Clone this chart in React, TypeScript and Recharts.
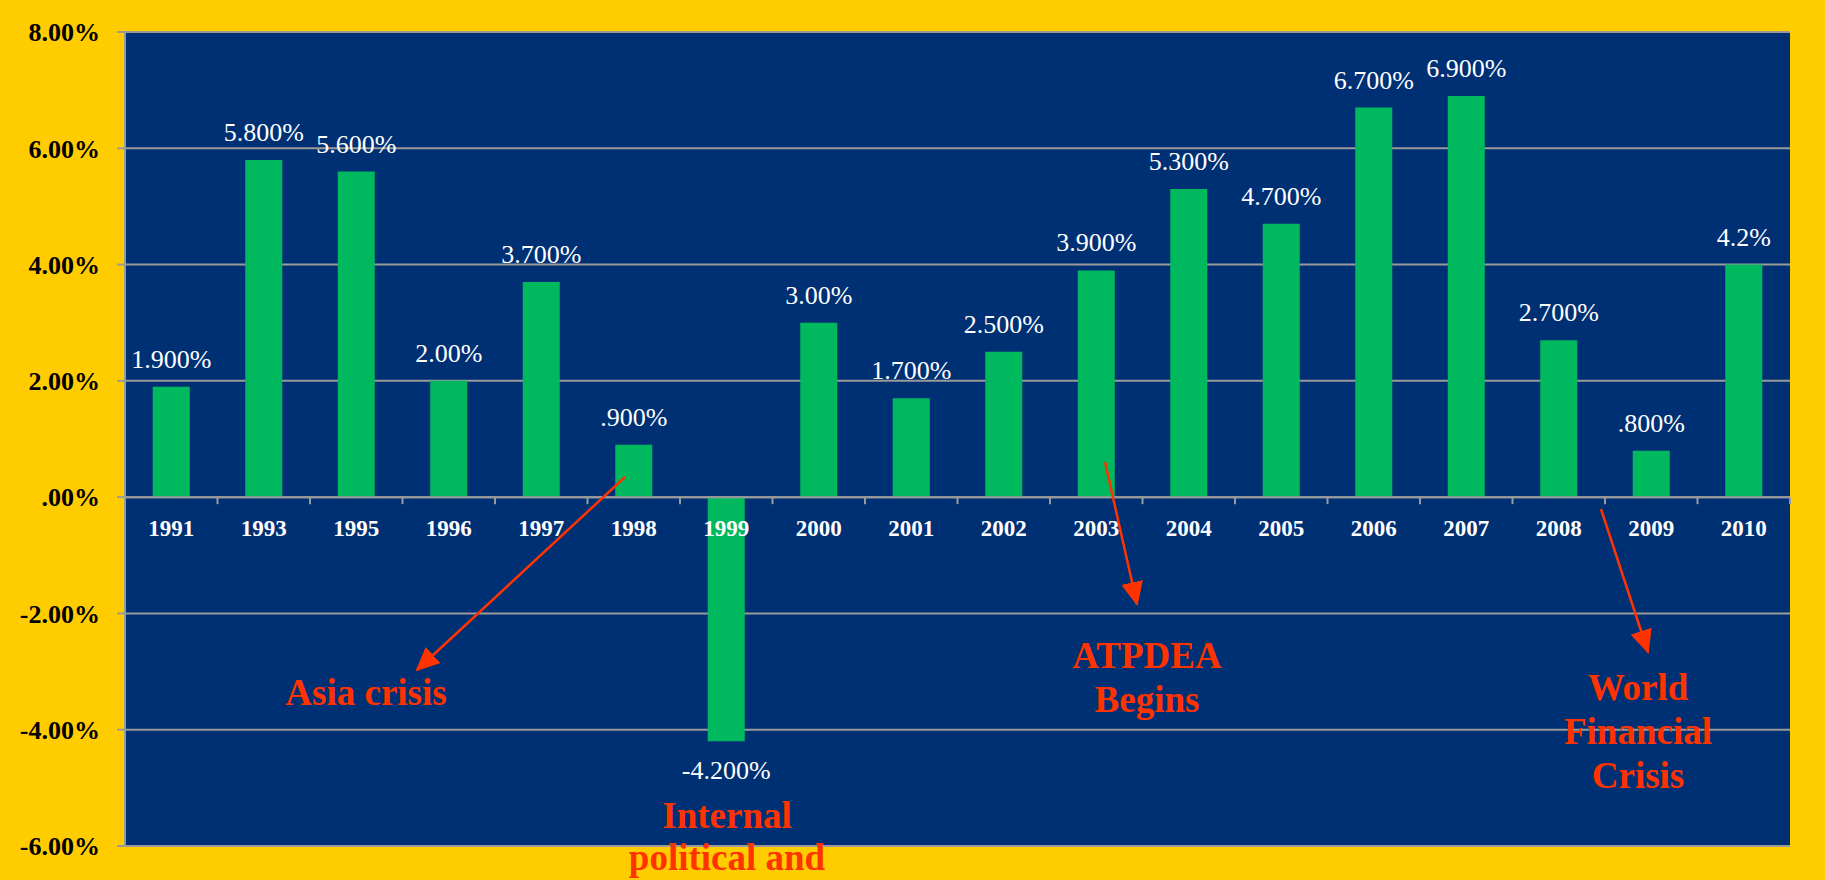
import React from 'react';
import { BarChart, Bar, XAxis, YAxis, CartesianGrid, LabelList, ReferenceLine } from 'recharts';

const years = ['1991', '1993', '1995', '1996', '1997', '1998', '1999', '2000', '2001', '2002', '2003', '2004', '2005', '2006', '2007', '2008', '2009', '2010'];
const growth = [1.9, 5.8, 5.6, 2.0, 3.7, 0.9, -4.2, 3.0, 1.7, 2.5, 3.9, 5.3, 4.7, 6.7, 6.9, 2.7, 0.8, 4.0];
const valueLabels = ['1.900%', '5.800%', '5.600%', '2.00%', '3.700%', '.900%', '-4.200%', '3.00%', '1.700%', '2.500%', '3.900%', '5.300%', '4.700%', '6.700%', '6.900%', '2.700%', '.800%', '4.2%'];
const yTicks = [-6, -4, -2, 0, 2, 4, 6, 8];
const yTickLabels = ['-6.00%', '-4.00%', '-2.00%', '.00%', '2.00%', '4.00%', '6.00%', '8.00%'];

const data = years.map((y, i) => ({ year: y, value: growth[i], label: valueLabels[i] }));

const W = 1825;
const H = 880;
const M = { top: 32, right: 35, bottom: 33, left: 0 };
const Y_AXIS_W = 125;
const PLOT_LEFT = M.left + Y_AXIS_W;
const PLOT_TOP = M.top;
const PLOT_W = W - M.right - PLOT_LEFT;
const PLOT_H = H - M.top - M.bottom - 1;
const Y_MIN = -6;
const Y_MAX = 8;
const yPix = (v: number) => PLOT_TOP + ((Y_MAX - v) / (Y_MAX - Y_MIN)) * PLOT_H;
const BAND = PLOT_W / years.length;

const SERIF = "'Times New Roman', 'Liberation Serif', serif";
const GRID = '#9a9a9a';
const RED = '#FF3300';

const XTick = (props: any) => {
  const { x, payload, index } = props;
  const y0 = yPix(0);
  return (
    <g>
      {index === 0 && <line x1={x - BAND / 2} x2={x - BAND / 2} y1={y0} y2={y0 + 7} stroke={GRID} strokeWidth={2} />}
      <line x1={x + BAND / 2} x2={x + BAND / 2} y1={y0} y2={y0 + 7} stroke={GRID} strokeWidth={2} />
      <text x={x} y={y0 + 39} textAnchor="middle" fill="#ffffff" fontSize={23} fontWeight="bold" fontFamily={SERIF}>
        {payload.value}
      </text>
    </g>
  );
};

const Annotations = () => (
  <svg width={W} height={H} style={{ position: 'absolute', left: 0, top: 0, pointerEvents: 'none' }}>
    <defs>
      <marker id="ah" markerUnits="userSpaceOnUse" markerWidth="24" markerHeight="22" refX="22" refY="11" orient="auto">
        <path d="M0,0 L24,11 L0,22 z" fill={RED} />
      </marker>
    </defs>
    <g stroke={RED} strokeWidth={2.5} fill="none">
      <line x1={625} y1={477} x2={417} y2={670} markerEnd="url(#ah)" />
      <line x1={1105} y1={462} x2={1137} y2={604} markerEnd="url(#ah)" />
      <line x1={1601} y1={509} x2={1648} y2={652} markerEnd="url(#ah)" />
    </g>
    <g fill={RED} fontFamily={SERIF} fontWeight="bold" fontSize={37} textAnchor="middle">
      <text x={366} y={705}>Asia crisis</text>
      <text x={727} y={828}>Internal</text>
      <text x={727} y={870}>political and</text>
      <text x={1147} y={668}>ATPDEA</text>
      <text x={1147} y={712}>Begins</text>
      <text x={1638} y={700}>World</text>
      <text x={1638} y={744}>Financial</text>
      <text x={1638} y={788}>Crisis</text>
    </g>
  </svg>
);

export default function App() {
  return (
    <div style={{ position: 'absolute', left: 0, top: 0, width: W, height: H, background: '#FFCC00', overflow: 'hidden' }}>
      <BarChart width={W} height={H} data={data} margin={M} barCategoryGap="30%">
        <CartesianGrid vertical={false} stroke={GRID} strokeWidth={2} fill="#003074" fillOpacity={1} />
        <YAxis
          type="number"
          domain={[Y_MIN, Y_MAX]}
          ticks={yTicks}
          interval={0}
          width={Y_AXIS_W}
          allowDataOverflow
          tickFormatter={(v: number) => yTickLabels[yTicks.indexOf(v)]}
          axisLine={{ stroke: GRID, strokeWidth: 2 }}
          tickLine={{ stroke: GRID, strokeWidth: 2 }}
          tickSize={8}
          tickMargin={17}
          tick={{ fill: '#000000', fontSize: 26, fontWeight: 'bold', fontFamily: SERIF }}
        />
        <Bar dataKey="value" fill="#00B95F" isAnimationActive={false}>
          <LabelList dataKey="label" position="top" offset={19} fill="#ffffff" fontSize={26} fontFamily={SERIF} />
        </Bar>
        <ReferenceLine y={0} stroke={GRID} strokeWidth={2} />
        <XAxis dataKey="year" height={1} axisLine={false} tickLine={false} interval={0} tick={<XTick />} />
      </BarChart>
      <Annotations />
    </div>
  );
}
